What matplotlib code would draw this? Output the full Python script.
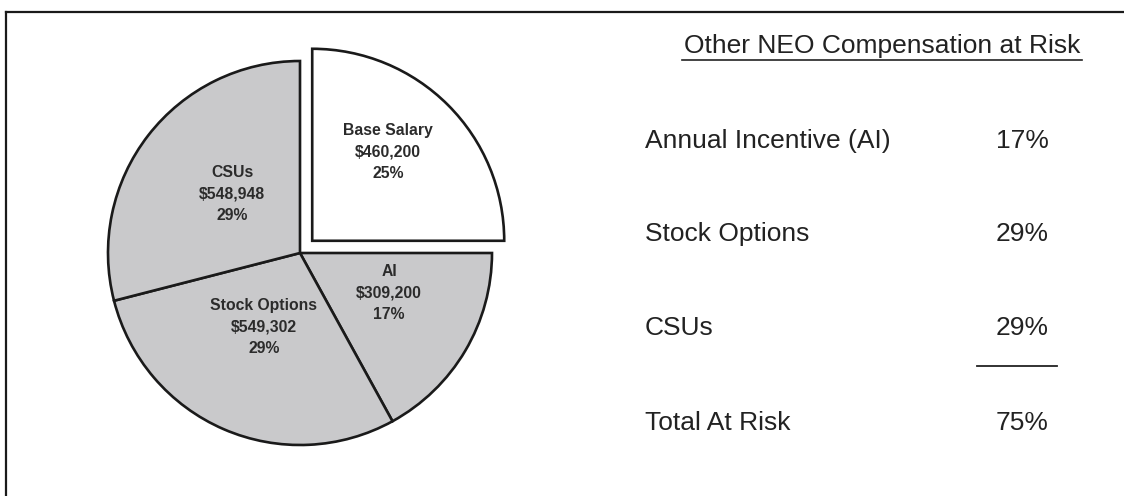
import matplotlib
matplotlib.use("Agg")
import matplotlib.pyplot as plt
from matplotlib.lines import Line2D

# ---- data ----
categories = ["Base Salary", "AI", "Stock Options", "CSUs"]
amounts = [460200, 309200, 549302, 548948]
percents = [25, 17, 29, 29]
wedge_colors = ["white", "#c9c9cb", "#c9c9cb", "#c9c9cb"]
explode_frac = [0.09, 0, 0, 0]

table_title = "Other NEO Compensation at Risk"
table_rows = ["Annual Incentive (AI)", "Stock Options", "CSUs", "Total At Risk"]
table_pcts = ["17%", "29%", "29%", "75%"]

# ---- figure ----
plt.rcParams['font.family'] = ['Liberation Sans', 'DejaVu Sans']
W, H = 1124, 496
fig = plt.figure(figsize=(W / 100, H / 100), dpi=100)

# pie in its own axes (pixel-aligned)
cx, cy, R = 300, 253, 192
pax = fig.add_axes([(cx - 250) / W, 1 - (cy + 250) / H, 500 / W, 500 / H])
wedges, _ = pax.pie(percents, explode=[e * R for e in explode_frac], colors=wedge_colors,
                    startangle=90, counterclock=False, radius=R,
                    wedgeprops=dict(edgecolor="#1a1a1a", linewidth=1.9))
pax.set_xlim(-250, 250)
pax.set_ylim(-250, 250)
pax.set_aspect("equal")
pax.axis("off")

# overlay axes in pixel coordinates
ax = fig.add_axes([0, 0, 1, 1])
ax.set_xlim(0, W)
ax.set_ylim(H, 0)
ax.axis("off")
ax.patch.set_visible(False)

# wedge labels (pixel layout positions)
label_pos = [(388, 152), (389, 293), (264, 327), (232, 194)]
amount_text = ["${:,}".format(a) for a in amounts]
for name, amt, pct, (x, y) in zip(categories, amount_text, percents, label_pos):
    ax.text(x, y, f"{name}\n{amt}\n{pct}%", ha="center", va="center",
            fontsize=11.3, fontweight="bold", color="#2b2b2b", linespacing=1.55)

# border (top and left only)
ax.add_line(Line2D([6, W], [12, 12], color="#1a1a1a", lw=1.6))
ax.add_line(Line2D([6, 6], [12, H], color="#1a1a1a", lw=1.6))

# right-side table
fs = 19
ax.text(882, 53, table_title, ha="center", va="baseline", fontsize=fs, color="#222222")
ax.add_line(Line2D([682, 1082], [59.5, 59.5], color="#222222", lw=1.2))
row_y = [148, 241, 335, 430]
for lab, p, y in zip(table_rows, table_pcts, row_y):
    ax.text(645, y, lab, ha="left", va="baseline", fontsize=fs, color="#222222")
    ax.text(1022, y, p, ha="center", va="baseline", fontsize=fs, color="#222222")
ax.add_line(Line2D([977, 1057], [366, 366], color="#222222", lw=1.3))

fig.savefig("out.png", dpi=100, facecolor="white")
